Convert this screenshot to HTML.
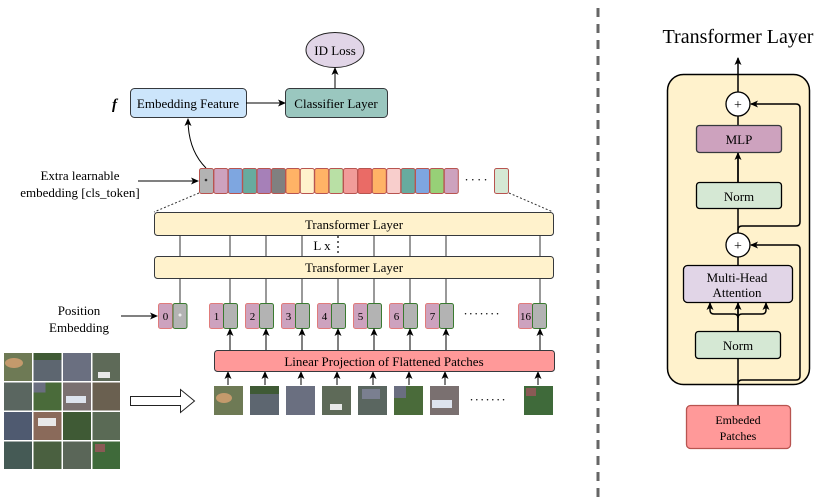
<!DOCTYPE html>
<html><head><meta charset="utf-8"><style>
html,body{margin:0;padding:0;background:#fff;}
svg{display:block;font-family:"Liberation Serif",serif;}
</style></head><body>
<svg width="830" height="504" viewBox="0 0 830 504" xmlns="http://www.w3.org/2000/svg">
<defs>
<marker id="a" markerWidth="8" markerHeight="8" refX="7" refY="4" orient="auto" markerUnits="userSpaceOnUse">
<path d="M0,0.5 L8,4 L0,7.5 L2,4 Z" fill="#000"/></marker>
</defs>
<!-- top -->
<ellipse cx="335" cy="50" rx="29" ry="17.5" fill="#e1d5e7" stroke="#222"/>
<text x="335" y="55" font-size="13" text-anchor="middle">ID Loss</text>
<rect x="130.5" y="88.5" width="116" height="29" rx="4" fill="#cce5fb" stroke="#36393d"/>
<text x="188" y="108" font-size="13" text-anchor="middle">Embedding Feature</text>
<rect x="285.5" y="88.5" width="102" height="29" rx="4" fill="#9ac7bf" stroke="#36393d"/>
<text x="336" y="108" font-size="13" text-anchor="middle">Classifier Layer</text>
<text x="112" y="109" font-size="15" font-style="italic" font-weight="bold">f</text>
<line x1="246" y1="103" x2="285" y2="103" stroke="#000" marker-end="url(#a)"/>
<line x1="335" y1="88" x2="335" y2="68" stroke="#000" marker-end="url(#a)"/>
<path d="M206,168 Q188,150 188,119" fill="none" stroke="#000" marker-end="url(#a)"/>
<!-- token row -->
<g stroke="#b85450" stroke-width="1">
<rect x="199.5" y="168.5" width="14" height="25" rx="2" fill="#b3b3b3"/>
<rect x="213.9" y="168.5" width="14" height="25" rx="2" fill="#cda2be"/>
<rect x="228.3" y="168.5" width="14" height="25" rx="2" fill="#7ea6e0"/>
<rect x="242.7" y="168.5" width="14" height="25" rx="2" fill="#67ab9f"/>
<rect x="257.1" y="168.5" width="14" height="25" rx="2" fill="#a680b8"/>
<rect x="271.5" y="168.5" width="14" height="25" rx="2" fill="#808080"/>
<rect x="285.9" y="168.5" width="14" height="25" rx="2" fill="#ffb366"/>
<rect x="300.3" y="168.5" width="14" height="25" rx="2" fill="#fff2cc"/>
<rect x="314.7" y="168.5" width="14" height="25" rx="2" fill="#ffb366"/>
<rect x="329.1" y="168.5" width="14" height="25" rx="2" fill="#b9e0a5"/>
<rect x="343.5" y="168.5" width="14" height="25" rx="2" fill="#f19c99"/>
<rect x="357.9" y="168.5" width="14" height="25" rx="2" fill="#ea6b66"/>
<rect x="372.3" y="168.5" width="14" height="25" rx="2" fill="#ffb366"/>
<rect x="386.7" y="168.5" width="14" height="25" rx="2" fill="#f8cecc"/>
<rect x="401.1" y="168.5" width="14" height="25" rx="2" fill="#67ab9f"/>
<rect x="415.5" y="168.5" width="14" height="25" rx="2" fill="#7ea6e0"/>
<rect x="429.9" y="168.5" width="14" height="25" rx="2" fill="#97d077"/>
<rect x="444.3" y="168.5" width="14" height="25" rx="2" fill="#cda2be"/>
<rect x="494.5" y="168.5" width="14" height="25" rx="2" fill="#d5e8d4"/>
</g>
<circle cx="206" cy="180" r="1.3" fill="#333"/>
<text x="477" y="184" font-size="13" text-anchor="middle" letter-spacing="2">····</text>
<text x="80" y="180" font-size="13" text-anchor="middle">Extra learnable</text>
<text x="80" y="197" font-size="13" text-anchor="middle">embedding [cls_token]</text>
<line x1="138" y1="181" x2="198" y2="181" stroke="#000" marker-end="url(#a)"/>
<line x1="199" y1="193" x2="154" y2="212" stroke="#333" stroke-dasharray="2,2"/>
<line x1="509" y1="193" x2="553" y2="212" stroke="#333" stroke-dasharray="2,2"/>
<!-- transformer stacks -->
<g stroke="#333">
<line x1="180" y1="235" x2="180" y2="303"/><line x1="230" y1="235" x2="230" y2="303"/>
<line x1="266" y1="235" x2="266" y2="303"/><line x1="302" y1="235" x2="302" y2="303"/>
<line x1="374" y1="235" x2="374" y2="303"/><line x1="410" y1="235" x2="410" y2="303"/>
<line x1="446" y1="235" x2="446" y2="303"/><line x1="540" y1="235" x2="540" y2="303"/>
<line x1="338" y1="278" x2="338" y2="303"/>
<line x1="338" y1="236" x2="338" y2="256" stroke-dasharray="2,3" stroke-width="1.5"/>
</g>
<rect x="154.5" y="212.5" width="399" height="23" rx="3" fill="#fff2cc" stroke="#36393d"/>
<text x="354" y="229" font-size="13" text-anchor="middle">Transformer Layer</text>
<rect x="154.5" y="256.5" width="399" height="22" rx="3" fill="#fff2cc" stroke="#36393d"/>
<text x="354" y="272" font-size="13" text-anchor="middle">Transformer Layer</text>
<text x="322" y="250" font-size="13" text-anchor="middle">L x</text>
<!-- position tokens -->
<g font-size="11" text-anchor="middle">
<rect x="158.5" y="303.5" width="14" height="25" rx="2" fill="#cda2be" stroke="#e07b7b"/>
<rect x="173" y="303.5" width="14" height="25" rx="2" fill="#b3b3b3" stroke="#3a7a30"/>
<text x="165.5" y="320">0</text><circle cx="180" cy="315" r="1.5" fill="#eee"/>
<rect x="209.5" y="303.5" width="14" height="25" rx="2" fill="#cda2be" stroke="#e07b7b"/>
<rect x="223.5" y="303.5" width="14" height="25" rx="2" fill="#b3b3b3" stroke="#3a7a30"/><text x="216.5" y="320">1</text>
<rect x="245.5" y="303.5" width="14" height="25" rx="2" fill="#cda2be" stroke="#e07b7b"/>
<rect x="259.5" y="303.5" width="14" height="25" rx="2" fill="#b3b3b3" stroke="#3a7a30"/><text x="252.5" y="320">2</text>
<rect x="281.5" y="303.5" width="14" height="25" rx="2" fill="#cda2be" stroke="#e07b7b"/>
<rect x="295.5" y="303.5" width="14" height="25" rx="2" fill="#b3b3b3" stroke="#3a7a30"/><text x="288.5" y="320">3</text>
<rect x="317.5" y="303.5" width="14" height="25" rx="2" fill="#cda2be" stroke="#e07b7b"/>
<rect x="331.5" y="303.5" width="14" height="25" rx="2" fill="#b3b3b3" stroke="#3a7a30"/><text x="324.5" y="320">4</text>
<rect x="353.5" y="303.5" width="14" height="25" rx="2" fill="#cda2be" stroke="#e07b7b"/>
<rect x="367.5" y="303.5" width="14" height="25" rx="2" fill="#b3b3b3" stroke="#3a7a30"/><text x="360.5" y="320">5</text>
<rect x="389.5" y="303.5" width="14" height="25" rx="2" fill="#cda2be" stroke="#e07b7b"/>
<rect x="403.5" y="303.5" width="14" height="25" rx="2" fill="#b3b3b3" stroke="#3a7a30"/><text x="396.5" y="320">6</text>
<rect x="425.5" y="303.5" width="14" height="25" rx="2" fill="#cda2be" stroke="#e07b7b"/>
<rect x="439.5" y="303.5" width="14" height="25" rx="2" fill="#b3b3b3" stroke="#3a7a30"/><text x="432.5" y="320">7</text>
<rect x="518.5" y="303.5" width="14" height="25" rx="2" fill="#cda2be" stroke="#e07b7b"/>
<rect x="532.5" y="303.5" width="14" height="25" rx="2" fill="#b3b3b3" stroke="#3a7a30"/><text x="525.5" y="320">16</text>
</g>
<text x="482" y="318" font-size="13" text-anchor="middle" letter-spacing="1">·······</text>
<text x="79" y="315" font-size="13" text-anchor="middle">Position</text>
<text x="79" y="332" font-size="13" text-anchor="middle">Embedding</text>
<line x1="121" y1="316" x2="157" y2="316" stroke="#000" marker-end="url(#a)"/>
<!-- arrows linear->gray -->
<g stroke="#000">
<line x1="230" y1="350" x2="230" y2="329" marker-end="url(#a)"/><line x1="266" y1="350" x2="266" y2="329" marker-end="url(#a)"/>
<line x1="302" y1="350" x2="302" y2="329" marker-end="url(#a)"/><line x1="338" y1="350" x2="338" y2="329" marker-end="url(#a)"/>
<line x1="374" y1="350" x2="374" y2="329" marker-end="url(#a)"/><line x1="410" y1="350" x2="410" y2="329" marker-end="url(#a)"/>
<line x1="446" y1="350" x2="446" y2="329" marker-end="url(#a)"/><line x1="540" y1="350" x2="540" y2="329" marker-end="url(#a)"/>
<line x1="228" y1="385" x2="228" y2="372" marker-end="url(#a)"/><line x1="265" y1="385" x2="265" y2="372" marker-end="url(#a)"/>
<line x1="301" y1="385" x2="301" y2="372" marker-end="url(#a)"/><line x1="337" y1="385" x2="337" y2="372" marker-end="url(#a)"/>
<line x1="373" y1="385" x2="373" y2="372" marker-end="url(#a)"/><line x1="409" y1="385" x2="409" y2="372" marker-end="url(#a)"/>
<line x1="445" y1="385" x2="445" y2="372" marker-end="url(#a)"/><line x1="538" y1="385" x2="538" y2="372" marker-end="url(#a)"/>
</g>
<rect x="214.5" y="350.5" width="340" height="21" rx="3" fill="#ff9999" stroke="#36393d"/>
<text x="384" y="366" font-size="13" text-anchor="middle">Linear Projection of Flattened Patches</text>
<!-- patches -->
<rect x="214" y="386" width="29" height="29" fill="#6e7a55"/><ellipse cx="224" cy="398" rx="8" ry="5" fill="#c49a6c"/>
<rect x="250" y="386" width="29" height="29" fill="#5d6670"/><rect x="250" y="386" width="29" height="8" fill="#3f5a35"/>
<rect x="286" y="386" width="29" height="29" fill="#6a6f80"/>
<rect x="322" y="386" width="29" height="29" fill="#5e6a58"/><rect x="330" y="404" width="12" height="6" fill="#e8e8e8"/>
<rect x="358" y="386" width="29" height="29" fill="#5a6660"/><rect x="362" y="389" width="18" height="10" fill="#7a7f90"/>
<rect x="394" y="386" width="29" height="29" fill="#4a6b3a"/><rect x="394" y="386" width="12" height="12" fill="#6a6e80"/>
<rect x="430" y="386" width="29" height="29" fill="#7a7070"/><rect x="432" y="400" width="20" height="8" fill="#dde3ee"/>
<rect x="524" y="386" width="29" height="29" fill="#3f6a3a"/><rect x="526" y="388" width="10" height="8" fill="#8a5a55"/>
<text x="488" y="404" font-size="13" text-anchor="middle" letter-spacing="1">·······</text>
<!-- mosaic -->
<g>
<rect x="4" y="353" width="116" height="116" fill="#fff"/>
<rect x="4" y="353" width="28" height="28" fill="#6e7a55"/><ellipse cx="14" cy="363" rx="9" ry="5" fill="#c49a6c"/>
<rect x="33.5" y="353" width="28" height="28" fill="#5d6670"/><rect x="33.5" y="353" width="28" height="7" fill="#3f5a35"/>
<rect x="63" y="353" width="28" height="28" fill="#6a6f80"/>
<rect x="92.5" y="353" width="27.5" height="28" fill="#5e6a58"/><rect x="98" y="372" width="12" height="6" fill="#e8e8e8"/>
<rect x="4" y="382.5" width="28" height="28" fill="#5a6660"/>
<rect x="33.5" y="382.5" width="28" height="28" fill="#4a6b3a"/><rect x="33.5" y="382.5" width="12" height="10" fill="#6a6e80"/>
<rect x="63" y="382.5" width="28" height="28" fill="#7a7070"/><rect x="66" y="396" width="20" height="7" fill="#dde3ee"/>
<rect x="92.5" y="382.5" width="27.5" height="28" fill="#6a6050"/>
<rect x="4" y="412" width="28" height="28" fill="#4f5a70"/>
<rect x="33.5" y="412" width="28" height="28" fill="#8a6a5a"/><rect x="38" y="418" width="18" height="8" fill="#e8e8e8"/>
<rect x="63" y="412" width="28" height="28" fill="#3f5a35"/>
<rect x="92.5" y="412" width="27.5" height="28" fill="#5a6a55"/>
<rect x="4" y="441.5" width="28" height="27.5" fill="#455a55"/>
<rect x="33.5" y="441.5" width="28" height="27.5" fill="#4a6040"/>
<rect x="63" y="441.5" width="28" height="27.5" fill="#5a6658"/>
<rect x="92.5" y="441.5" width="27.5" height="27.5" fill="#3f6a3a"/><rect x="95" y="444" width="10" height="8" fill="#8a5a55"/>
</g>
<path d="M130.5,396.5 H180.5 V389.5 L194.5,401 L180.5,412.5 V405.5 H130.5 Z" fill="#fff" stroke="#222"/>
<!-- separator -->
<line x1="598" y1="8" x2="598" y2="500" stroke="#666" stroke-width="3" stroke-dasharray="9,7"/>
<!-- right panel -->
<text x="738" y="43" font-size="20" text-anchor="middle">Transformer Layer</text>
<rect x="667.5" y="74.5" width="142" height="310" rx="16" fill="#fff2cc" stroke="#000" stroke-width="1.5"/>
<g stroke="#000" stroke-width="1.5" fill="none">
<line x1="738" y1="405" x2="738" y2="58" marker-end="url(#a)"/>
<path d="M738,230 Q738,226 742,226 H796 Q800,226 800,222 V108 Q800,104 796,104 H751" marker-end="url(#a)"/>
<path d="M738,384 Q738,380 742,380 H796 Q800,380 800,376 V249 Q800,245 796,245 H751" marker-end="url(#a)"/>
<path d="M738,318 Q738,314 734,314 H714 Q710,314 710,310 V303" marker-end="url(#a)"/>
<path d="M738,318 Q738,314 742,314 H762 Q766,314 766,310 V303" marker-end="url(#a)"/>
<line x1="738" y1="208" x2="738" y2="153" marker-end="url(#a)"/>
<line x1="738" y1="330" x2="738" y2="303" marker-end="url(#a)"/>
</g>
<circle cx="738" cy="104" r="12" fill="#fff" stroke="#000" stroke-width="1.3"/>
<text x="738" y="109" font-size="14" text-anchor="middle">+</text>
<circle cx="738" cy="245" r="12" fill="#fff" stroke="#000" stroke-width="1.3"/>
<text x="738" y="250" font-size="14" text-anchor="middle">+</text>
<rect x="696.5" y="125.5" width="85" height="27" rx="3" fill="#cda2be" stroke="#36393d" stroke-width="1.3"/>
<text x="739" y="144" font-size="13" text-anchor="middle">MLP</text>
<rect x="696.5" y="182.5" width="85" height="26" rx="3" fill="#d5e8d4" stroke="#000" stroke-width="1.3"/>
<text x="739" y="201" font-size="13" text-anchor="middle">Norm</text>
<rect x="683.5" y="265.5" width="109" height="37" rx="4" fill="#e1d5e7" stroke="#000" stroke-width="1.3"/>
<text x="737" y="282" font-size="13" text-anchor="middle">Multi-Head</text>
<text x="737" y="297" font-size="13" text-anchor="middle">Attention</text>
<rect x="695.5" y="331.5" width="85" height="27" rx="3" fill="#d5e8d4" stroke="#000" stroke-width="1.3"/>
<text x="738" y="350" font-size="13" text-anchor="middle">Norm</text>
<rect x="686.5" y="405.5" width="104" height="43" rx="4" fill="#ff9999" stroke="#b85450" stroke-width="1.3"/>
<text x="738" y="424" font-size="12" text-anchor="middle">Embeded</text>
<text x="738" y="440" font-size="12" text-anchor="middle">Patches</text>
</svg>
</body></html>
